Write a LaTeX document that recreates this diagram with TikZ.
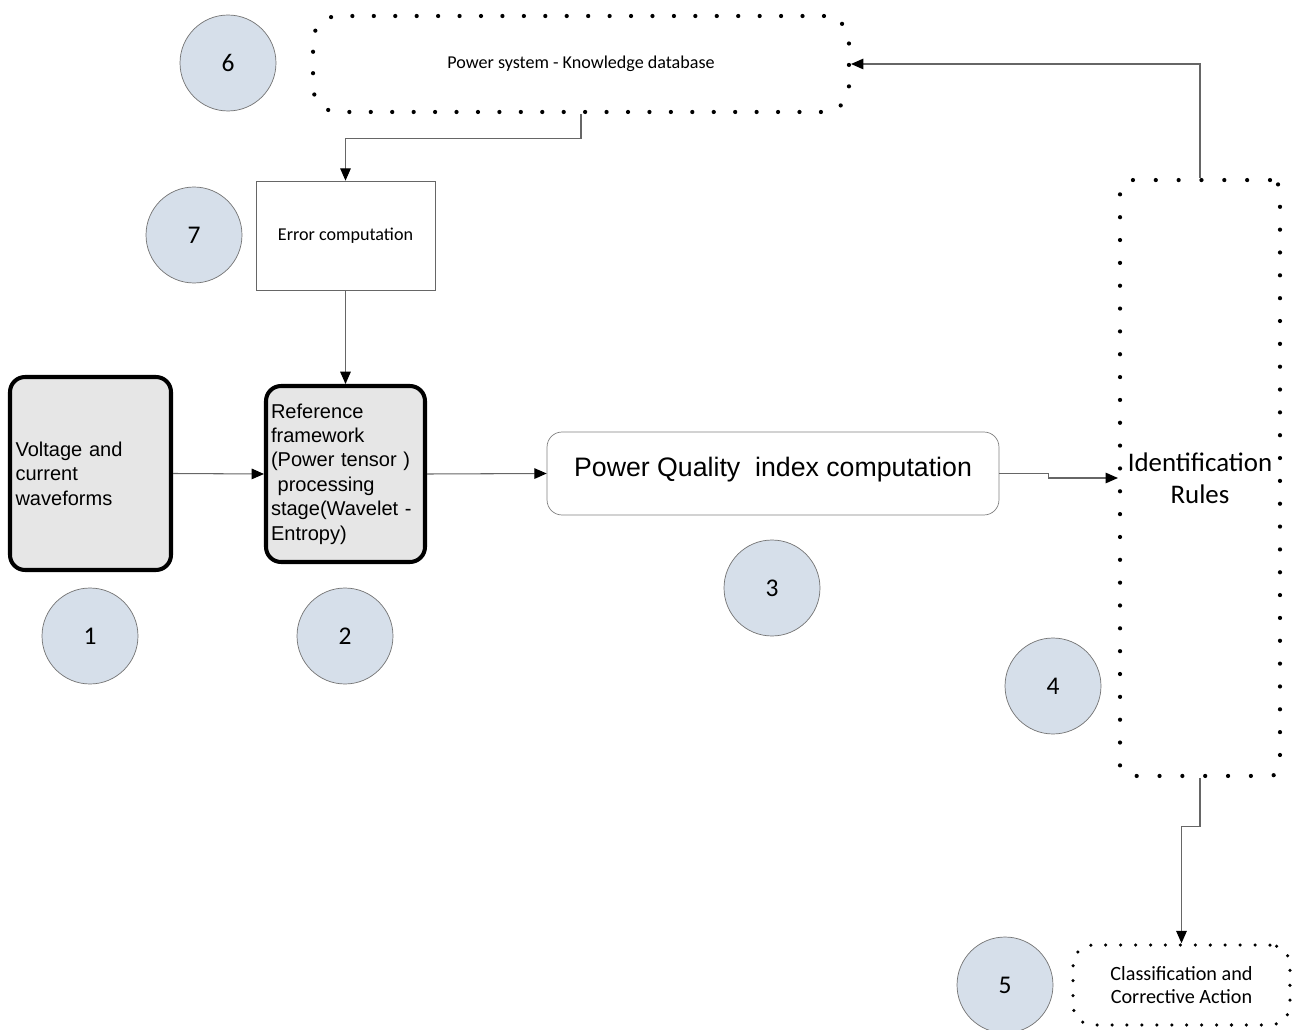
\documentclass[tikz,border=0pt]{standalone}
\usepackage{fontspec}
\setmainfont{Liberation Sans}
\newfontfamily\calib{Carlito}
\usetikzlibrary{arrows.meta}
\definecolor{numblue}{HTML}{D6DFEA}
\definecolor{boxgray}{HTML}{E6E6E6}
\definecolor{linegray}{HTML}{666666}
\tikzset{
  num/.style={circle, draw=gray!90!black, fill=numblue, minimum size=1.92cm, inner sep=0pt, font=\calib\fontsize{14.5}{16}\selectfont},
  thickbox/.style={draw, line width=2.3pt, rounded corners=0.3cm, fill=boxgray, inner sep=0.1cm, align=left, font=\fontsize{11.4}{13.9}\selectfont},
  dotbox/.style={draw, line width=2.4pt, line cap=round, dash pattern=on 0pt off 12.2pt, rounded corners=0.5cm, inner sep=0pt, align=center},
  conn/.style={draw=linegray, line width=0.6pt, -{Triangle[length=7pt,width=6pt,color=black]}}
}
\begin{document}
\begin{tikzpicture}[x=0.02cm, y=-0.02cm]
      \useasboundingbox (0,0) rectangle (1298,1030);
      % numbered circles
      \node[num] (n6) at (228,63) {6};
      \node[num] (n7) at (194,235) {7};
      \node[num] (n1) at (90,636) {1};
      \node[num] (n2) at (345,636) {2};
      \node[num] (n3) at (772,588) {3};
      \node[num] (n4) at (1053,686) {4};
      \node[num] (n5) at (1005,985) {5};
      % blocks
      \node[thickbox, minimum width=3.22cm, minimum height=3.86cm, text width=3.0cm] (wave) at (90.5,473.5)
        {Voltage and\\current\\waveforms};
      \node[thickbox, minimum width=3.18cm, minimum height=3.52cm, text width=2.98cm] (ref) at (345.5,474)
        {Reference\\framework\\(Power tensor )\\\ processing\\stage(Wavelet -\\Entropy)};
      \node[draw=gray, rounded corners=0.3cm, minimum width=9.04cm, minimum height=1.66cm, font=\fontsize{15.2}{18}\selectfont] (pqi) at (773,473.5)
        {\raisebox{-0.06cm}[0pt][0pt]{Power Quality\ \ index computation}};
      \node[draw=gray!80!black, minimum width=3.58cm, minimum height=2.18cm, font=\calib\fontsize{10.3}{12}\selectfont] (err) at (345.5,235.5)
        {Error computation};
      \node[dotbox, minimum width=10.72cm, minimum height=1.92cm, font=\calib\fontsize{10.3}{12}\selectfont] (kdb) at (581,64)
        {Power system - Knowledge database};
      \node[dotbox, rounded corners=0.2cm, dash pattern=on 0pt off 13pt, minimum width=3.2cm, minimum height=11.92cm, font=\calib\fontsize{15.3}{18.2}\selectfont] (idr) at (1200,478)
        {Identification\\Rules};
      \node[dotbox, line width=2pt, dash pattern=on 0pt off 8.5pt, rounded corners=0.4cm, minimum width=4.34cm, minimum height=1.6cm, font=\calib\fontsize{11.5}{13.6}\selectfont] (cls) at (1181.5,985)
        {Classification and\\Corrective Action};
      % connectors
      \begin{scope}[conn]
        \draw (wave.east) to (ref.west);
        \draw (ref.east) to (pqi.west);
        \draw (pqi.east) -- ++(49,0) |- (idr.west);
        \draw (idr.north) |- (kdb.east);
        \draw (kdb.south) -- ++(0,24) -| (err.north);
        \draw (err.south) to (ref.north);
        \draw (idr.south) -- ++(0,48) -| (cls.north);
      \end{scope}
    \end{tikzpicture}
\end{document}
